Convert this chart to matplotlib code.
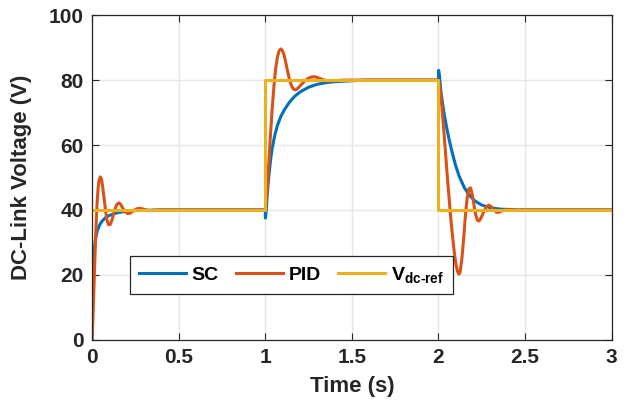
import matplotlib
matplotlib.use("Agg")
import matplotlib.pyplot as plt

plt.rcParams['font.family'] = ['Liberation Sans', 'DejaVu Sans']
plt.rcParams['font.weight'] = 'bold'
plt.rcParams['mathtext.fontset'] = 'custom'
plt.rcParams['mathtext.bf'] = 'Liberation Sans:bold'
plt.rcParams['mathtext.rm'] = 'Liberation Sans:bold'

# values
t_sc = [0, 0.003, 0.006, 0.01, 0.015, 0.02, 0.03, 0.045, 0.06, 0.08, 0.1, 0.13, 0.16, 0.2, 0.25, 0.3, 0.4, 1.0,
        1.001, 1.006, 1.012, 1.02, 1.03, 1.04, 1.055, 1.07, 1.09, 1.11, 1.14, 1.17, 1.2, 1.25, 1.3, 1.35, 1.4, 1.5, 1.6, 2.0,
        2.001, 2.006, 2.015, 2.03, 2.045, 2.06, 2.08, 2.1, 2.12, 2.15, 2.18, 2.21, 2.25, 2.3, 2.35, 2.45, 3.0]
v_sc = [0, 10, 18, 24, 28.5, 31, 33.5, 35.5, 36.7, 37.7, 38.3, 38.9, 39.3, 39.6, 39.8, 39.9, 40, 40,
        37.5, 40, 45, 50, 55, 59, 63, 66, 68.8, 70.8, 73.2, 75, 76.3, 77.8, 78.7, 79.2, 79.5, 79.8, 80, 80,
        83, 81, 76, 70.5, 66, 62, 57.5, 53.5, 50.3, 46.8, 44.4, 42.8, 41.5, 40.7, 40.3, 40, 40]

t_pid = [0, 0.005, 0.01, 0.015, 0.02, 0.025, 0.03, 0.035, 0.04, 0.048, 0.055, 0.062, 0.07, 0.078, 0.086, 0.095,
         0.105, 0.115, 0.125, 0.135, 0.145, 0.155, 0.165, 0.175, 0.19, 0.205, 0.22, 0.24, 0.26, 0.28, 0.3, 0.33,
         0.37, 1.0,
         1.01, 1.02, 1.03, 1.04, 1.05, 1.06, 1.07, 1.08, 1.09, 1.1, 1.11, 1.12, 1.13, 1.14, 1.15, 1.16, 1.17, 1.18,
         1.19, 1.21, 1.23, 1.25, 1.27, 1.29, 1.31, 1.34, 1.37, 1.4, 1.45, 2.0,
         2.01, 2.02, 2.03, 2.04, 2.05, 2.06, 2.07, 2.08, 2.09, 2.1, 2.11, 2.118, 2.125, 2.135, 2.145, 2.155, 2.165,
         2.175, 2.185, 2.195, 2.205, 2.215, 2.225, 2.235, 2.245, 2.26, 2.275, 2.29, 2.305, 2.32, 2.335, 2.35, 2.37,
         2.4, 2.45, 3.0]
v_pid = [0, 6, 14, 22, 30, 37, 42.5, 46.5, 49, 50.2, 49.5, 47, 43.5, 40, 37, 35.5,
         35.5, 36.8, 38.8, 40.6, 41.8, 42.2, 41.8, 40.8, 39.5, 38.9, 39.0, 39.8, 40.4, 40.5, 40.2, 39.8,
         40, 40,
         45, 54, 63, 71, 78, 83.5, 87, 89, 89.6, 89, 87.5, 85, 82.5, 80.2, 78.5, 77.4, 77, 77.1,
         77.6, 78.7, 79.8, 80.6, 81, 81, 80.6, 80, 79.7, 79.8, 80, 80,
         77, 71.5, 65, 58, 51, 44.5, 38, 32.5, 27.5, 23.5, 21, 20.2, 21, 25, 31, 38, 43.5,
         46.5, 46.8, 44.8, 41.5, 38.5, 36.8, 36.6, 37.5, 39.3, 40.9, 41.5, 41, 40, 39.3, 39.3, 39.8,
         40.2, 40, 40]

t_ref = [0, 1, 1, 2, 2, 3]
v_ref = [40, 40, 80, 80, 40, 40]

fig = plt.figure(figsize=(6.3, 4.09), dpi=100)
ax = fig.add_axes([0.146, 0.169, 0.825, 0.794])

ax.plot(t_sc, v_sc, color='#0072BD', lw=2.2, label='SC')
ax.plot(t_pid, v_pid, color='#D95319', lw=2.2, label='PID')
ax.plot(t_ref, v_ref, color='#EDB120', lw=2.2, label=r'$\mathbf{V_{dc\text{-}ref}}$')

ax.set_xlim(0, 3)
ax.set_ylim(0, 100)
ax.set_xticks([0, 0.5, 1, 1.5, 2, 2.5, 3])
ax.set_xticklabels(['0', '0.5', '1', '1.5', '2', '2.5', '3'])
ax.set_yticks([0, 20, 40, 60, 80, 100])
ax.grid(True, color='#e6e6e6', lw=1)
ax.set_axisbelow(True)
ax.tick_params(direction='in', top=True, right=True, labelsize=15, colors='#262626', length=5, pad=6)
for s in ax.spines.values():
    s.set_color('#262626')
    s.set_linewidth(0.9)

ax.set_xlabel('Time (s)', fontsize=16, fontweight='bold', color='#262626', labelpad=6)
ax.set_ylabel('DC-Link Voltage (V)', fontsize=16, fontweight='bold', color='#262626', labelpad=12)

leg = ax.legend(loc='lower left', bbox_to_anchor=(0.055, 0.112), ncol=3, fontsize=14,
                frameon=True, fancybox=False, handlelength=2.4, columnspacing=0.9,
                handletextpad=0.3, borderpad=0.45)
leg.get_frame().set_edgecolor('#262626')
leg.get_frame().set_linewidth(0.9)
leg.get_frame().set_alpha(1)

fig.savefig('out.png', dpi=100)
